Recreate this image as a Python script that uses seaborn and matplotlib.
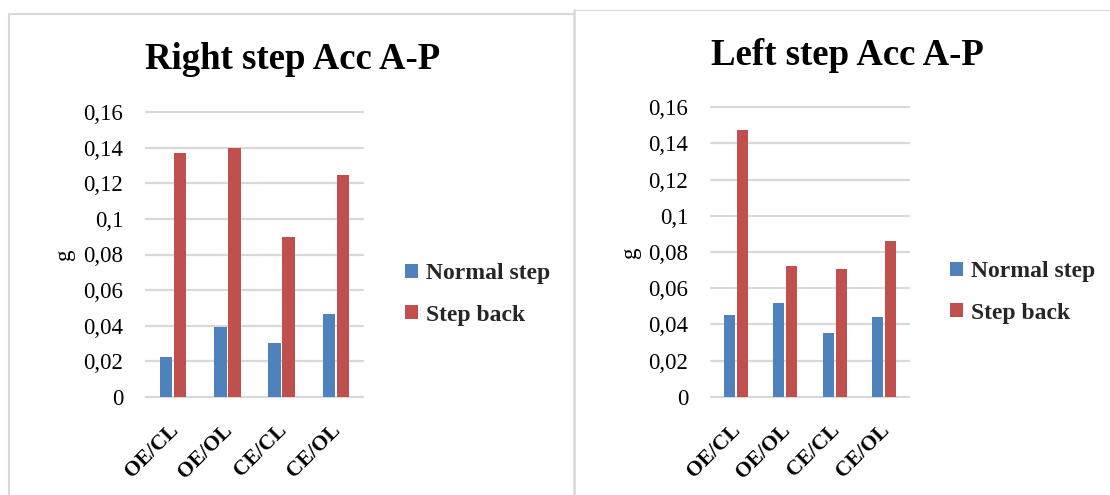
import matplotlib
matplotlib.use("Agg")
import matplotlib.pyplot as plt
import seaborn as sns
import pandas as pd
from matplotlib.transforms import ScaledTranslation
from matplotlib.lines import Line2D

# ---------------- data ----------------
conditions = ["OE/CL", "OE/OL", "CE/CL", "CE/OL"]
series_names = ["Normal step", "Step back"]
right_normal = [0.0225, 0.0390, 0.0300, 0.0464]
right_back = [0.1373, 0.1398, 0.0900, 0.1248]
left_normal = [0.0452, 0.0516, 0.0354, 0.0442]
left_back = [0.1475, 0.0725, 0.0706, 0.0861]
y_ticks = [0, 0.02, 0.04, 0.06, 0.08, 0.10, 0.12, 0.14, 0.16]
y_tick_labels = ["0", "0,02", "0,04", "0,06", "0,08", "0,1", "0,12", "0,14", "0,16"]
titles = ["Right step Acc A-P", "Left step Acc A-P"]
y_label = "g"

# ---------------- style ----------------
sns.set_theme(style="white")
plt.rcParams["font.family"] = ["Liberation Serif", "DejaVu Serif"]
BLUE = "#4F81BD"
RED = "#C0504D"
GRID = "#d9d9d9"

W, H = 1110, 495
fig = plt.figure(figsize=(W / 100, H / 100), dpi=100)


def fx(x):
    return x / W


def fy(y):
    return 1 - y / H


panels = [
    dict(normal=right_normal, back=right_back, title=titles[0],
         box=(146, 112.3, 363, 396.7), title_xy=(292.5, 69),
         ylabel_xy=(64, 254), legend_xy=(405, 294.5)),
    dict(normal=left_normal, back=left_back, title=titles[1],
         box=(711, 107.3, 909, 396.7), title_xy=(847, 65),
         ylabel_xy=(631, 252), legend_xy=(950, 292.5)),
]

for p in panels:
    x0, y0, x1, y1 = p["box"]
    ax = fig.add_axes([fx(x0), fy(y1), (x1 - x0) / W, (y1 - y0) / H])
    df = pd.DataFrame({
        "cond": conditions * 2,
        "val": list(p["normal"]) + list(p["back"]),
        "series": [series_names[0]] * 4 + [series_names[1]] * 4,
    })
    sns.barplot(data=df, x="cond", y="val", hue="series", order=conditions,
                hue_order=series_names, palette=[BLUE, RED], width=0.515,
                gap=0.12, saturation=1, ax=ax, linewidth=0)
    ax.set_xlim(-0.5, 3.5)
    ax.set_ylim(0, 0.16)
    ax.set_yticks(y_ticks, y_tick_labels)
    ax.grid(axis="y", color=GRID, lw=1.6)
    ax.grid(axis="x", visible=False)
    ax.set_axisbelow(True)
    for gl in ax.get_ygridlines():
        gl.set_clip_on(False)
    for s in ax.spines.values():
        s.set_visible(False)
    ax.set_xlabel("")
    ax.set_ylabel("")
    ax.tick_params(axis="y", length=0, pad=16.5, labelsize=16.5, colors="black")
    ax.tick_params(axis="x", length=0, pad=22, labelsize=15.5, colors="black")
    ax.set_xticks(range(len(conditions)))
    ax.set_xticklabels(conditions, rotation=45, ha="right", va="center",
                       rotation_mode="anchor", fontweight="bold")
    off = ScaledTranslation(2 / 100, 0, fig.dpi_scale_trans)
    for lab in ax.get_xticklabels():
        lab.set_transform(lab.get_transform() + off)

    handles, labels = ax.get_legend_handles_labels()
    ax.legend(handles, labels, loc="center left",
              bbox_to_anchor=(fx(p["legend_xy"][0]), fy(p["legend_xy"][1])),
              bbox_transform=fig.transFigure, frameon=False,
              prop={"size": 17, "weight": "bold"},
              handlelength=0.55, handleheight=0.55, handletextpad=0.35,
              labelspacing=0.85, borderpad=0, borderaxespad=0)

    fig.text(fx(p["title_xy"][0]), fy(p["title_xy"][1]), p["title"],
             ha="center", va="baseline", fontsize=26.5, fontweight="bold",
             color="black")
    fig.text(fx(p["ylabel_xy"][0]), fy(p["ylabel_xy"][1]), y_label,
             ha="center", va="center", rotation=90, fontsize=16.5, color="black")

# panel frames
frame_lines = [
    ([8.5, 8.5], [14, 495], 1.5),
    ([8.5, 573.5], [14, 14], 1.5),
    ([573.5, 573.5], [10, 495], 1.8),
    ([573.5, 1110], [10, 10], 0.9),
]
for xs, ys, lw in frame_lines:
    fig.add_artist(Line2D([fx(v) for v in xs], [fy(v) for v in ys],
                          transform=fig.transFigure, color=GRID, lw=lw))

fig.savefig("out.png", dpi=100, facecolor="white")
